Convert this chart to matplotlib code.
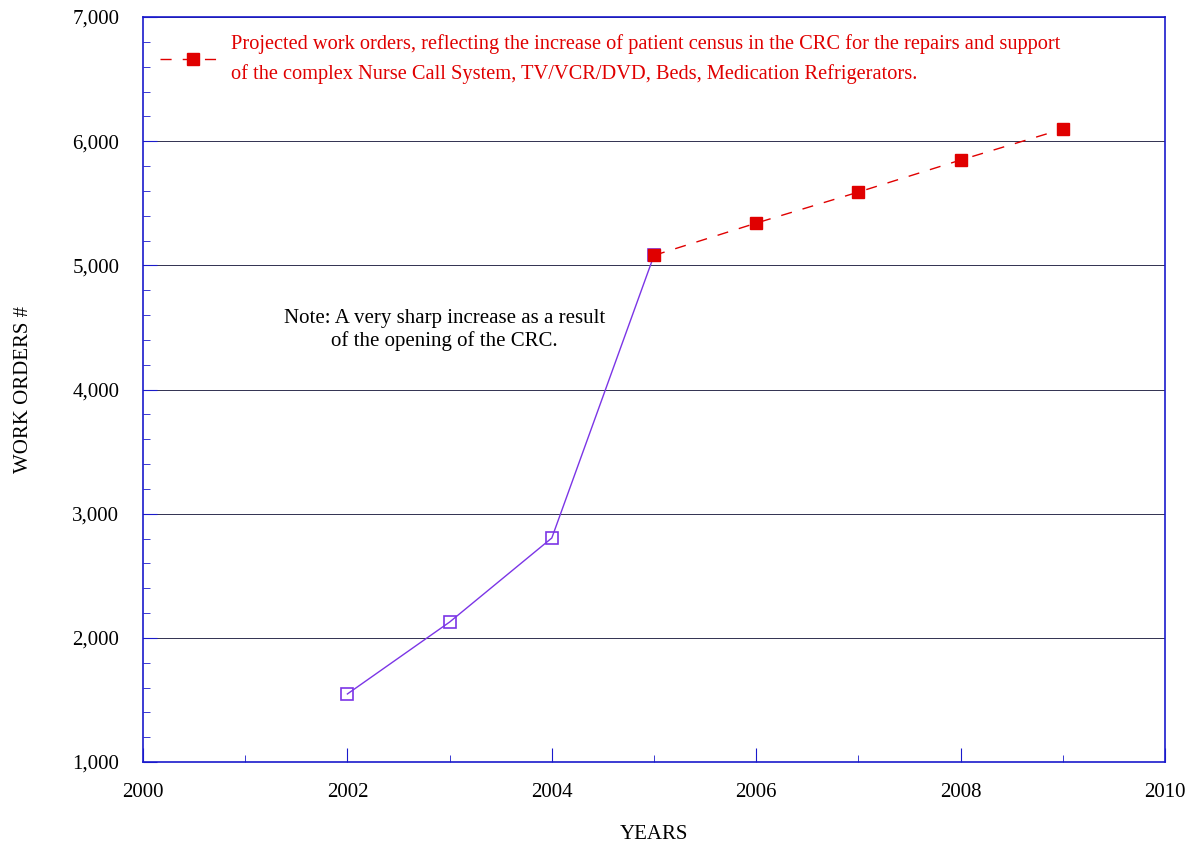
import matplotlib
matplotlib.use("Agg")
import matplotlib.pyplot as plt
from matplotlib.ticker import MultipleLocator, FuncFormatter

# Actual work orders (open squares)
years_actual = [2002, 2003, 2004, 2005]
orders_actual = [1548, 2127, 2804, 5080]

# Projected work orders (filled squares)
years_proj = [2005, 2006, 2007, 2008, 2009]
orders_proj = [5080, 5340, 5590, 5848, 6098]

legend_text = ("Projected work orders, reflecting the increase of patient census in the CRC for the repairs and support\n"
               "of the complex Nurse Call System, TV/VCR/DVD, Beds, Medication Refrigerators.")
note_text = "Note: A very sharp increase as a result\nof the opening of the CRC."

plt.rcParams['font.family'] = ['Liberation Serif', 'DejaVu Serif']

fig = plt.figure(figsize=(11.95, 8.44), dpi=100)
ax = fig.add_axes([143 / 1195, 1 - 762 / 844, (1165 - 143) / 1195, (762 - 17) / 844])

blue = '#1a1acc'
purple = '#7b35e6'
red = '#e00000'

ax.plot(years_actual, orders_actual, color=purple, lw=1.0, marker='s', markersize=9,
        markerfacecolor='none', markeredgecolor=purple, markeredgewidth=1.2)
ax.plot(years_proj, orders_proj, color=red, lw=1.0, dashes=(8, 8), marker='s', markersize=9,
        markerfacecolor=red, markeredgecolor=red, label=legend_text)

ax.set_xlim(2000, 2010)
ax.set_ylim(1000, 7000)
ax.xaxis.set_major_locator(MultipleLocator(2))
ax.xaxis.set_minor_locator(MultipleLocator(1))
ax.yaxis.set_major_locator(MultipleLocator(1000))
ax.yaxis.set_minor_locator(MultipleLocator(200))
ax.yaxis.set_major_formatter(FuncFormatter(lambda v, p: f"{int(v):,}"))

ax.grid(axis='y', which='major', color='#303050', lw=0.7)
for s in ax.spines.values():
    s.set_color(blue)
    s.set_linewidth(1.2)

ax.tick_params(which='both', direction='in', color=blue, labelsize=15, top=False, right=False)
ax.tick_params(which='major', length=10)
ax.tick_params(which='minor', length=5)
ax.tick_params(axis='x', pad=15)
ax.tick_params(axis='y', pad=17)

ax.set_xlabel("YEARS", fontsize=15, labelpad=17)
ax.set_ylabel("WORK ORDERS #", fontsize=15, labelpad=28)

leg = ax.legend(loc='upper left', frameon=False, fontsize=14.7, handlelength=3.2,
                bbox_to_anchor=(0.0, 1.0), borderaxespad=0.45, handletextpad=0.25)
for t in leg.get_texts():
    t.set_color(red)
    t.set_linespacing(1.65)

ax.text(2002.95, 4480, note_text, fontsize=15, ha='center', va='center', linespacing=1.25)

fig.savefig("out.png", dpi=100)
